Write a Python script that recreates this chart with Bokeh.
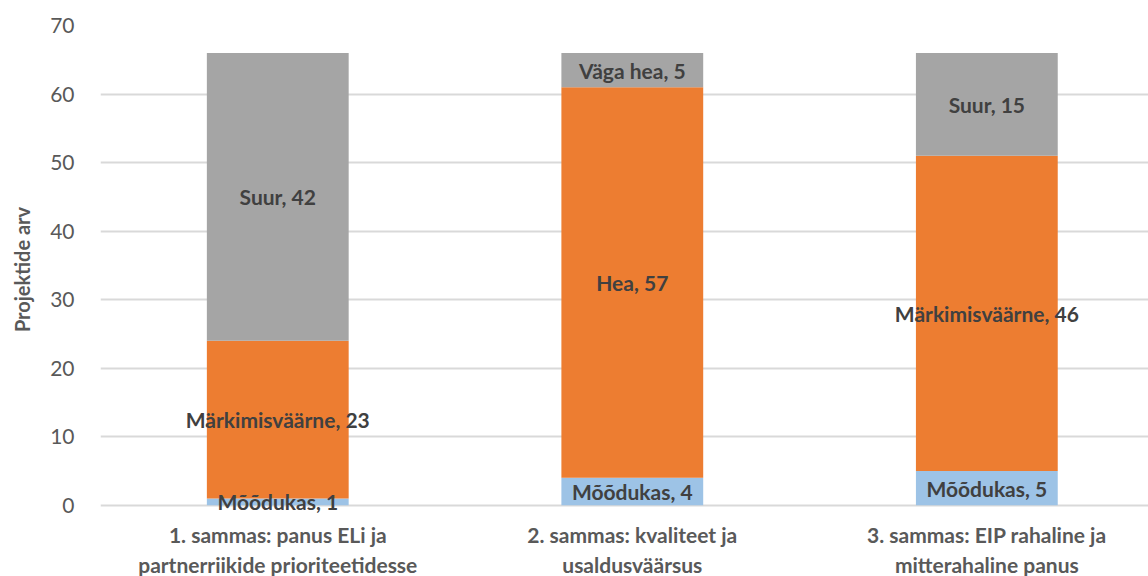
from bokeh.plotting import figure
from bokeh.models import ColumnDataSource, FixedTicker, Range1d
from bokeh.core.properties import value
from bokeh.embed import file_html
from bokeh.resources import INLINE

categories = ["1. sammas: panus ELi ja\npartnerriikide prioriteetidesse",
              "2. sammas: kvaliteet ja\nusaldusväärsus",
              "3. sammas: EIP rahaline ja\nmitterahaline panus"]
bottom_names = ["Mõõdukas", "Mõõdukas", "Mõõdukas"]
bottom_values = [1, 4, 5]
middle_names = ["Märkimisväärne", "Hea", "Märkimisväärne"]
middle_values = [23, 57, 46]
top_names = ["Suur", "Väga hea", "Suur"]
top_values = [42, 5, 15]
y_ticks = [0, 10, 20, 30, 40, 50, 60, 70]

colors = ["#9DC3E6", "#ED7D31", "#A5A5A5"]
FONT = "Lato"

x = list(range(len(categories)))
src = ColumnDataSource(dict(x=x, b=bottom_values, m=middle_values, t=top_values))

# frame extends slightly below 0 so the lowest data label is not clipped
p = figure(width=1148, height=576, frame_width=1048, frame_height=488,
           output_backend="svg", toolbar_location=None,
           x_range=Range1d(-0.5, 2.456), y_range=Range1d(-1.2, 70),
           min_border_left=100, min_border_right=0, min_border_top=25, min_border_bottom=63)
p.outline_line_color = None
p.background_fill_color = "white"
p.border_fill_color = "white"

p.vbar_stack(["b", "m", "t"], x="x", width=0.4, color=colors, source=src, line_color=None)

# labels at segment centers
lx, ly, lt = [], [], []
for i in x:
    segs = [(bottom_names[i], bottom_values[i]), (middle_names[i], middle_values[i]), (top_names[i], top_values[i])]
    base = 0
    for name, v in segs:
        lx.append(i)
        ly.append(base + v / 2)
        lt.append(f"{name}, {v}")
        base += v
p.text(x=lx, y=ly, text=lt, text_align="center", text_baseline="middle",
       text_font=value(FONT), text_font_style="bold", text_font_size="21px", text_color="#404040")

p.xgrid.visible = False
p.ygrid.grid_line_color = "#D9D9D9"
p.ygrid.grid_line_width = 2
p.ygrid.level = "underlay"

p.yaxis.ticker = FixedTicker(ticks=y_ticks)
p.yaxis.axis_line_color = None
p.yaxis.major_tick_line_color = None
p.yaxis.minor_tick_line_color = None
p.yaxis.major_label_standoff = 20
p.yaxis.major_label_text_font = FONT
p.yaxis.major_label_text_font_size = "21px"
p.yaxis.major_label_text_color = "#595959"
p.yaxis.axis_label = "Projektide arv"
p.yaxis.axis_label_text_font = FONT
p.yaxis.axis_label_text_font_style = "bold"
p.yaxis.axis_label_text_font_size = "20px"
p.yaxis.axis_label_text_color = "#595959"
p.yaxis.axis_label_standoff = 13

p.xaxis.ticker = FixedTicker(ticks=x)
p.xaxis.major_label_overrides = {i: c for i, c in zip(x, categories)}
p.xaxis.axis_line_color = None
p.xaxis.major_tick_line_color = None
p.xaxis.minor_tick_line_color = None
p.xaxis.major_label_standoff = 2
p.xaxis.major_label_text_font = FONT
p.xaxis.major_label_text_font_style = "bold"
p.xaxis.major_label_text_font_size = "21px"
p.xaxis.major_label_text_color = "#595959"
p.xaxis.major_label_text_line_height = 1.2

open("out.html", "w").write(file_html(p, INLINE))
